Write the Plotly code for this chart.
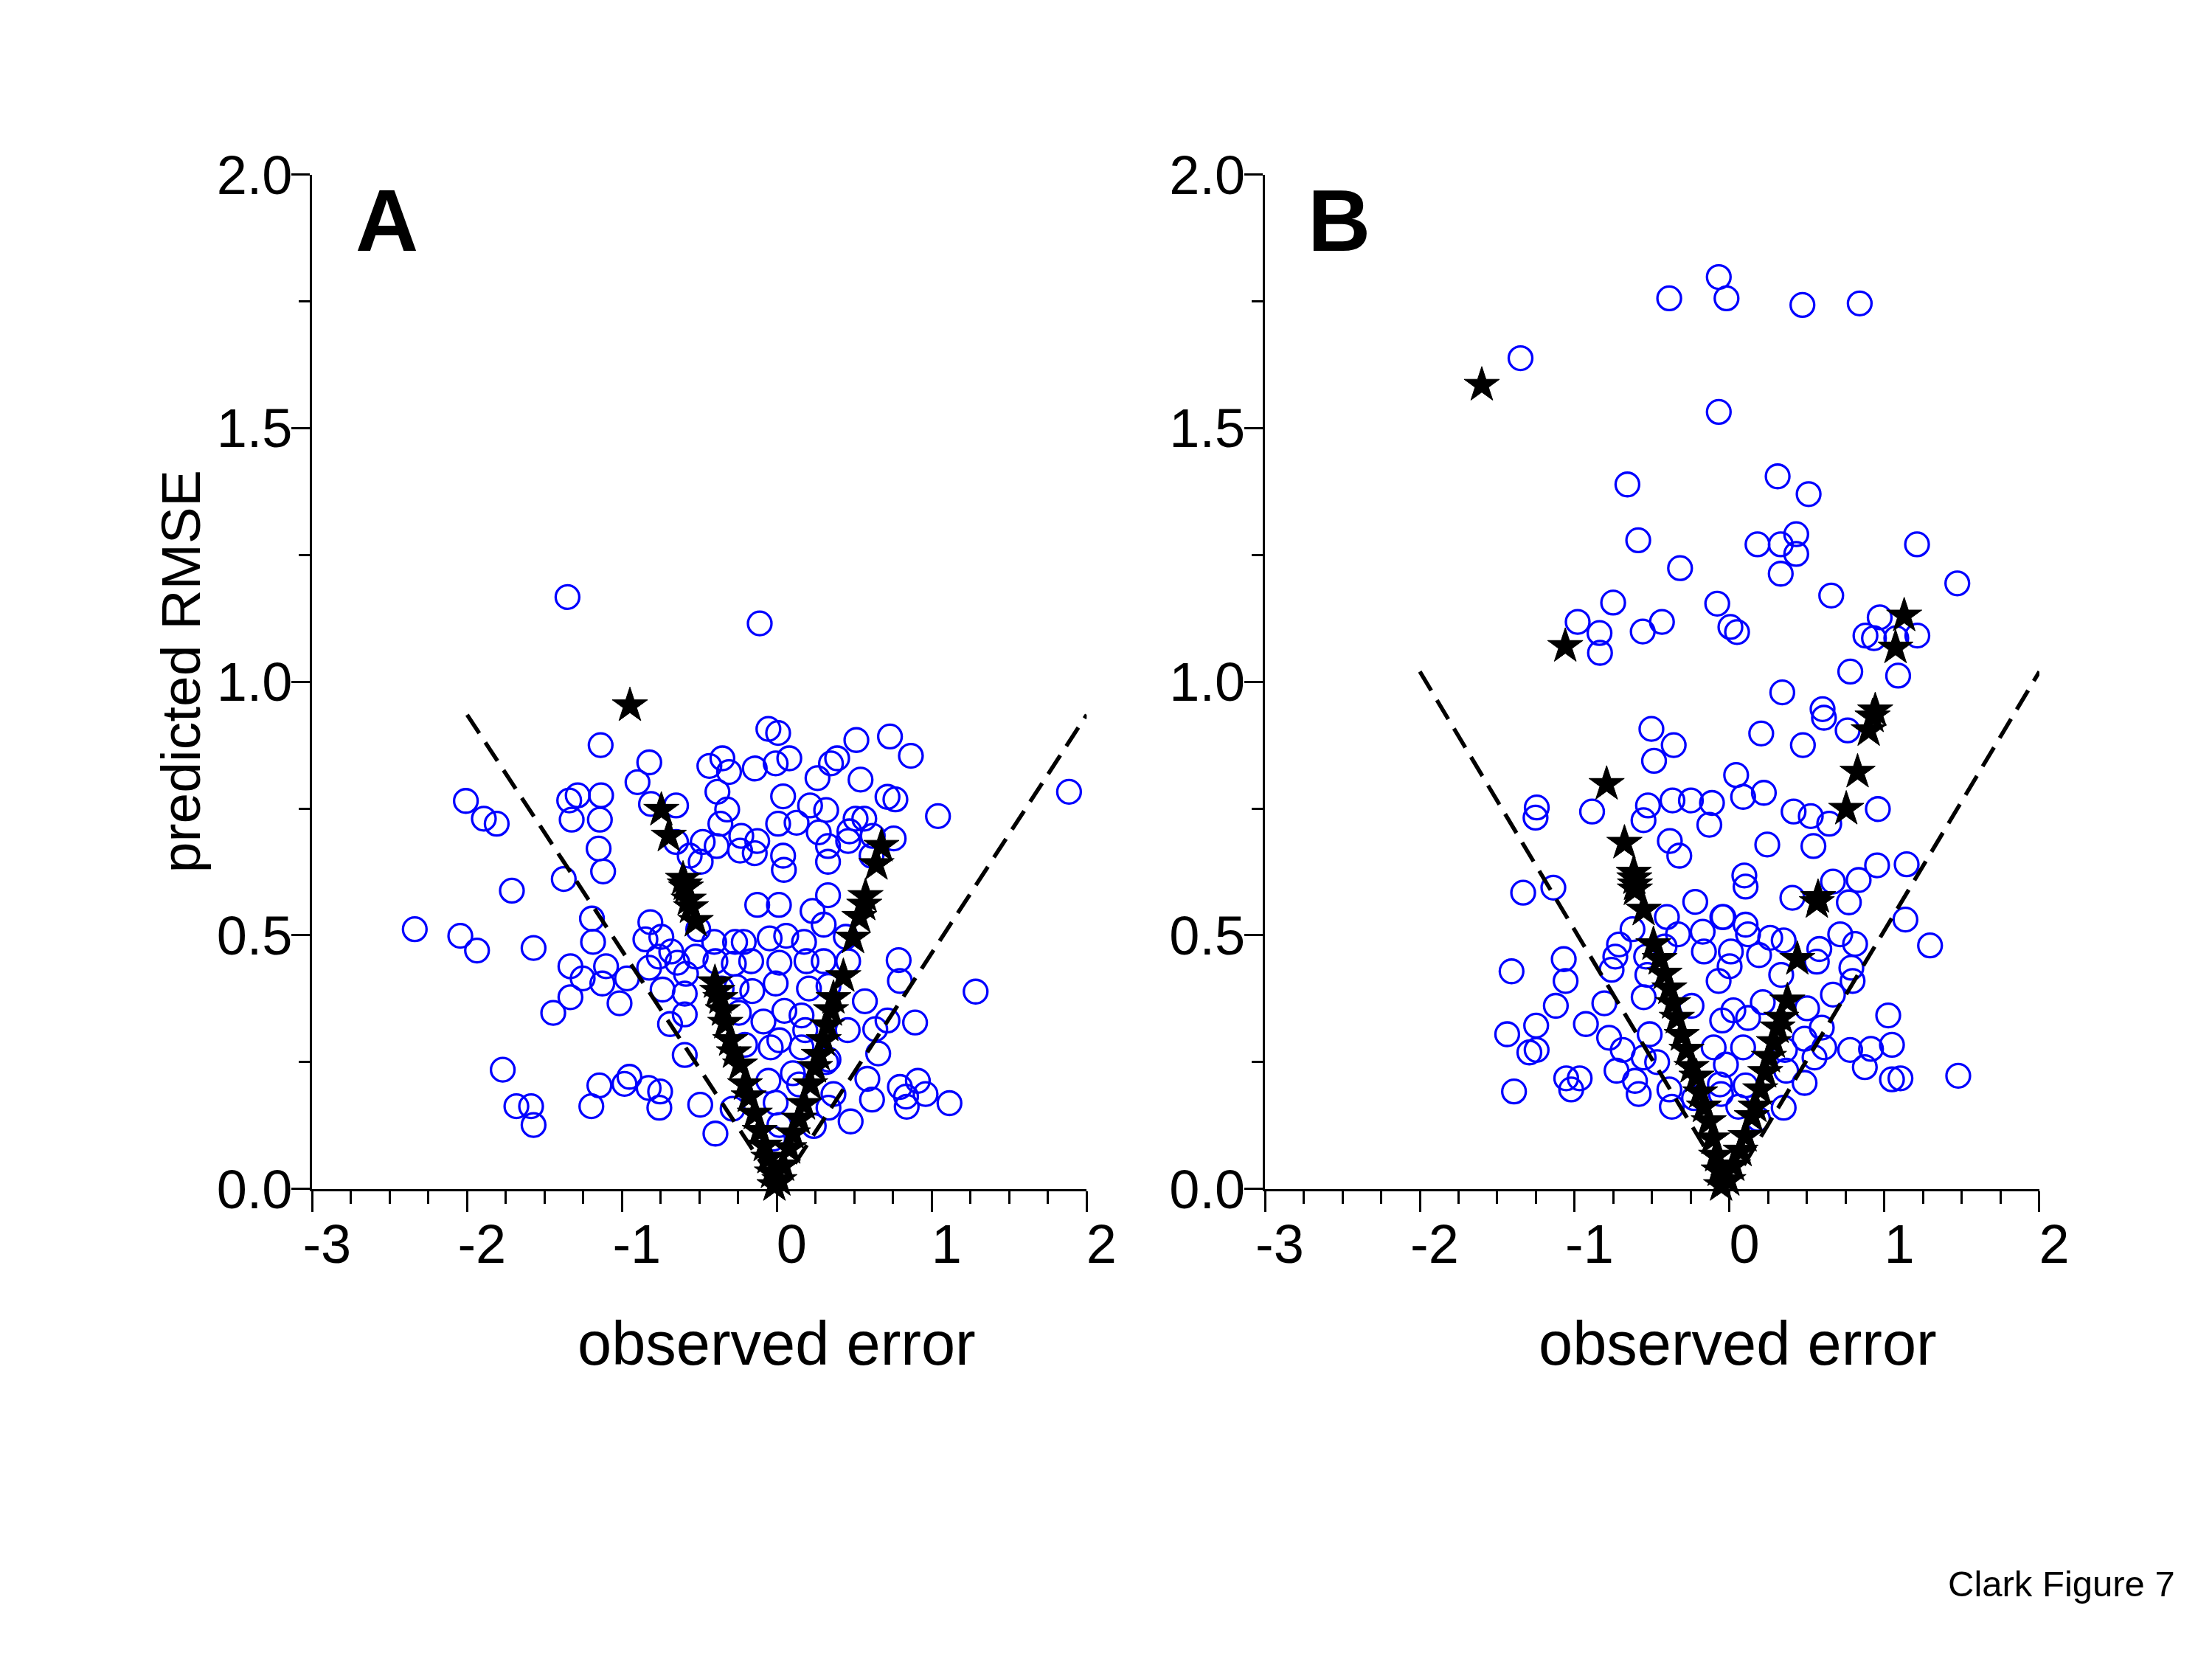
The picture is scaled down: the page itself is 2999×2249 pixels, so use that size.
import plotly.graph_objects as go

FONT = "Liberation Sans, Arial, Helvetica, sans-serif"
BLUE = "#0000ff"

# ---- panel A -------------------------------------------------------------
a_circle_x = [
    -1.352, -1.138, -0.824, -0.900, -0.436, -0.352, -0.309, -0.384, -0.321, -0.365,
    -0.813, -0.651, -0.651, -0.479, -0.389, -0.563, -0.492, -0.238, -0.230, -2.008,
    -1.892, -1.809, -1.286, -1.135, -1.325, -1.143, -1.341, -1.151, -1.122, -1.376,
    -1.711, -2.338, -2.044, -1.936, -1.571, -1.194, -1.187, -0.817, -0.849, -0.746,
    -0.508, -0.405, -0.270,
    -0.111, -0.055, 0.008, 0.513, 0.730, 0.865, -0.143, -0.008, 0.080, 0.349,
    0.389, 0.262, 0.540, 0.040, 0.214, 0.318, 0.714, 0.765, 1.040, 1.886,
    0.008, 0.127, 0.270, 0.508, 0.564, 0.468, 0.619, 0.754, -0.127, 0.040,
    0.045, 0.330, 0.330, 0.460, 0.611, -0.127, 0.013, 0.330, 0.230, 0.302,
    -0.214, -0.047, 0.060, 0.175, 0.445, -0.143,
    -0.682, -1.333, -1.254, -1.127, -1.103, -0.968, -1.333, -1.444, -1.016, -0.825,
    -0.762, -0.643, -0.524, -0.587, -0.738, -0.595, -0.595, -0.690, -0.595, -0.397,
    -0.357, -0.278, -0.260, -1.770, -1.682, -1.587, -1.571, -1.146, -1.198, -0.984,
    -0.952, -0.828, -0.754, -0.759, -0.495, -0.286, -0.397,
    0.786, 0.794, 1.283, 0.568, 0.714, 0.892, 0.635, 0.457, 0.654, 0.584,
    0.614, 0.794, 0.910, 0.960, 0.834, 0.838, 1.114, 0.476, 0.365, 0.333,
    0.238, 0.016, -0.008, -0.055, 0.103, 0.143, 0.318, -0.166, 0.016, 0.191,
    0.460, 0.302, -0.008, -0.159, 0.207, 0.333, -0.087, 0.048, 0.159, 0.183,
    -0.206, -0.040, 0.016, 0.159, 0.333, -0.246, -0.024,
]
a_circle_y = [
    1.167, 0.875, 0.841, 0.802, 0.834, 0.849, 0.822, 0.783, 0.748, 0.720,
    0.759, 0.756, 0.684, 0.684, 0.676, 0.657, 0.645, 0.667, 0.696, 0.765,
    0.730, 0.720, 0.776, 0.776, 0.728, 0.728, 0.766, 0.671, 0.626, 0.611,
    0.588, 0.512, 0.499, 0.470, 0.475, 0.533, 0.487, 0.526, 0.492, 0.497,
    0.512, 0.487, 0.487,
    1.115, 0.907, 0.899, 0.885, 0.892, 0.854, 0.829, 0.839, 0.849, 0.839,
    0.849, 0.810, 0.807, 0.774, 0.756, 0.747, 0.773, 0.768, 0.735, 0.783,
    0.720, 0.722, 0.703, 0.730, 0.730, 0.705, 0.696, 0.691, 0.686, 0.657,
    0.629, 0.676, 0.645, 0.686, 0.657, 0.560, 0.560, 0.579, 0.548, 0.521,
    0.487, 0.494, 0.499, 0.487, 0.497, 0.662,
    0.468, 0.439, 0.415, 0.405, 0.439, 0.415, 0.378, 0.347, 0.366, 0.436,
    0.458, 0.446, 0.458, 0.424, 0.393, 0.385, 0.344, 0.325, 0.264, 0.449,
    0.395, 0.444, 0.398, 0.235, 0.163, 0.163, 0.126, 0.204, 0.163, 0.207,
    0.221, 0.199, 0.192, 0.160, 0.166, 0.158, 0.109,
    0.451, 0.410, 0.389, 0.370, 0.332, 0.328, 0.315, 0.313, 0.267, 0.217,
    0.176, 0.201, 0.213, 0.187, 0.182, 0.162, 0.169, 0.133, 0.187, 0.160,
    0.124, 0.126, 0.170, 0.213, 0.228, 0.206, 0.250, 0.449, 0.446, 0.449,
    0.449, 0.449, 0.405, 0.390, 0.395, 0.400, 0.330, 0.351, 0.342, 0.313,
    0.284, 0.279, 0.293, 0.279, 0.255, 0.347, 0.099,
]
a_star_x = [
    -0.949, -0.746, -0.698, -0.606, -0.595, -0.587, -0.570, -0.555, -0.524,
    -0.400, -0.385, -0.365, -0.349, -0.333, -0.302, -0.278, -0.238, -0.206,
    -0.182, -0.143, -0.111, -0.079, -0.055, -0.032, -0.016,
    0.675, 0.643, 0.572, 0.564, 0.532, 0.492, 0.429, 0.365, 0.349, 0.325,
    0.302, 0.270, 0.246, 0.215, 0.175, 0.143, 0.103, 0.080, 0.040, 0.016,
]
a_star_y = [
    0.953, 0.747, 0.696, 0.611, 0.600, 0.594, 0.570, 0.555, 0.528,
    0.407, 0.390, 0.376, 0.352, 0.327, 0.293, 0.269, 0.245, 0.206,
    0.182, 0.148, 0.114, 0.085, 0.061, 0.032, 0.007,
    0.676, 0.640, 0.577, 0.560, 0.536, 0.495, 0.419, 0.376, 0.352, 0.322,
    0.293, 0.264, 0.240, 0.206, 0.167, 0.138, 0.109, 0.080, 0.046, 0.017,
]
a_dash_x = [-2.0, 0.01, 2.0]
a_dash_y = [0.935, 0.0, 0.935]

# ---- panel B -------------------------------------------------------------
b_circle_x = [
    -0.07, -0.02, -0.39, 0.47, 0.84, -1.35, -0.07, -0.66, 0.31, 0.51,
    -0.59, 0.18, 0.33, 0.43, 0.43, 0.33, -0.32, 1.21, 1.47,
    -0.752, -0.981, -0.840, -0.837, -0.561, -0.437, -0.080, 0.005, 0.048, 0.656,
    0.969, 0.877, 0.932, 1.076, 1.212, 0.779, 1.088, 0.340, 0.600, 0.609,
    0.762, 0.204, 0.473, -0.505, -0.361, -0.488, 0.042, 0.087, 0.221, 0.413,
    0.524, 0.643, 0.957, -0.888, -0.527, -0.556, -0.369, -0.250, -0.114, -0.131,
    -1.245, -1.253, -0.386, 0.243, 0.541,
    -0.325, -1.333, -1.138, -0.222, -0.405, -0.333, -0.627, -0.714, -0.738, -0.762,
    -0.539, -0.420, -0.174, -0.166, -0.047, -1.408, -1.071, -1.059, -1.122, -0.809,
    -0.555, -0.531, -1.249, -1.436, -1.293, -1.246, -0.928, -0.778, -0.516, -0.246,
    -0.690, -0.730, -0.611, -0.555, -0.468, -0.587, -0.389, -0.373, -0.230, -0.103,
    -0.063, -1.055, -0.968, -1.023, -1.392, -0.071,
    0.952, 1.143, 0.095, 0.103, 0.667, 0.833, 0.405, 0.770, 1.135, 1.294,
    -0.040, 0.103, 0.119, 0.262, 0.349, 0.190, 0.008, 0.000, 0.333, 0.579,
    0.714, 0.810, 0.563, 0.786, 0.794, 0.667, 0.214, 0.500, 0.024, -0.048,
    0.119, 1.024, 0.484, 0.595, 0.611, 0.548, 0.778, 0.913, 1.048, 0.873,
    1.048, 1.103, 1.476, 0.087, 0.357, -0.024, 0.365, 0.484, 0.103, 0.056,
    0.349, 0.183, -0.056,
]
b_circle_y = [
    1.798, 1.756, 1.756, 1.743, 1.746, 1.638, 1.532, 1.389, 1.405, 1.370,
    1.279, 1.271, 1.271, 1.291, 1.252, 1.213, 1.224, 1.271, 1.194,
    1.156, 1.118, 1.096, 1.057, 1.099, 1.118, 1.154, 1.108, 1.098, 1.170,
    1.127, 1.091, 1.086, 1.086, 1.091, 1.020, 1.012, 0.979, 0.946, 0.929,
    0.904, 0.898, 0.875, 0.907, 0.875, 0.844, 0.816, 0.773, 0.781, 0.744,
    0.735, 0.720, 0.749, 0.744, 0.756, 0.727, 0.766, 0.766, 0.761, 0.718,
    0.752, 0.732, 0.686, 0.679, 0.676,
    0.657, 0.584, 0.594, 0.566, 0.536, 0.502, 0.512, 0.482, 0.458, 0.432,
    0.458, 0.478, 0.507, 0.468, 0.536, 0.429, 0.453, 0.410, 0.361, 0.366,
    0.378, 0.422, 0.322, 0.305, 0.269, 0.274, 0.325, 0.298, 0.305, 0.361,
    0.274, 0.233, 0.213, 0.259, 0.250, 0.187, 0.196, 0.162, 0.179, 0.279,
    0.206, 0.218, 0.218, 0.196, 0.192, 0.410,
    0.638, 0.640, 0.618, 0.596, 0.606, 0.609, 0.574, 0.565, 0.531, 0.480,
    0.536, 0.521, 0.502, 0.495, 0.490, 0.461, 0.468, 0.439, 0.422, 0.473,
    0.502, 0.483, 0.448, 0.436, 0.410, 0.383, 0.368, 0.356, 0.352, 0.332,
    0.337, 0.342, 0.296, 0.318, 0.279, 0.259, 0.274, 0.276, 0.284, 0.240,
    0.216, 0.218, 0.223, 0.279, 0.274, 0.245, 0.233, 0.209, 0.204, 0.162,
    0.160, 0.138, 0.187,
]
b_star_x = [
    -1.600, -1.061, 1.127, 1.071, 0.940, 0.923, 0.898, 0.826, 0.753, -0.794,
    0.571, 0.563, 0.437,
    -0.679, -0.619, -0.615, -0.611, -0.612, -0.555, -0.492, -0.452, -0.420, -0.389,
    -0.365, -0.341, -0.309, -0.278, -0.246, -0.214, -0.190, -0.166, -0.135, -0.111,
    -0.087, -0.071, -0.055,
    0.373, 0.333, 0.310, 0.286, 0.254, 0.230, 0.198, 0.167, 0.143, 0.103,
    0.071, 0.024, -0.008,
]
b_star_y = [
    1.585, 1.070, 1.130, 1.067, 0.943, 0.931, 0.904, 0.822, 0.749, 0.798,
    0.575, 0.565, 0.453,
    0.682, 0.623, 0.612, 0.600, 0.590, 0.550, 0.482, 0.453, 0.424, 0.395,
    0.366, 0.337, 0.303, 0.274, 0.240, 0.221, 0.190, 0.162, 0.133, 0.099,
    0.065, 0.036, 0.007,
    0.371, 0.337, 0.318, 0.289, 0.260, 0.230, 0.196, 0.162, 0.143, 0.104,
    0.075, 0.046, 0.017,
]
b_dash_x = [-2.0, 0.0, 2.0]
b_dash_y = [1.02, 0.0, 1.02]

# ---- axes ----------------------------------------------------------------
x_tick_vals = [-3, -2, -1, 0, 1, 2]
x_tick_text = ["-3", "-2", "-1", "0", "1", "2"]
y_tick_vals = [0.0, 0.5, 1.0, 1.5, 2.0]
y_tick_text = ["0.0", "0.5", "1.0", "1.5", "2.0"]

panels = [
    ("A", a_circle_x, a_circle_y, a_star_x, a_star_y, a_dash_x, a_dash_y),
    ("B", b_circle_x, b_circle_y, b_star_x, b_star_y, b_dash_x, b_dash_y),
]
# the html page body has an 8px margin, so pull everything up/left by that
DX = 8 / 2999
DY = 8 / 2249
x_domains = [[0.14115 - DX, 0.49127 - DX], [0.57186 - DX, 0.92197 - DX]]
y_domain = [0.28337 + DY, 0.89475 + DY]
title_x = [0.3511 - DX, 0.7856 - DX]

fig = go.Figure()
layout = {}
annotations = []

for i, (letter, cx, cy, sx, sy, dx, dy) in enumerate(panels):
    n = "" if i == 0 else str(i + 1)
    xref, yref = "x" + n, "y" + n
    fig.add_trace(go.Scatter(
        x=cx, y=cy, mode="markers", xaxis=xref, yaxis=yref, cliponaxis=False,
        marker=dict(symbol="circle-open", size=32, color=BLUE,
                    line=dict(width=3.3, color=BLUE)),
    ))
    fig.add_trace(go.Scatter(
        x=dx, y=dy, mode="lines", xaxis=xref, yaxis=yref,
        line=dict(color="black", width=5.5, dash="30px,15px"),
    ))
    fig.add_trace(go.Scatter(
        x=sx, y=sy, mode="markers", xaxis=xref, yaxis=yref, cliponaxis=False,
        marker=dict(symbol="star", size=36, color="black",
                    line=dict(width=1, color="black")),
    ))

    common = dict(
        showline=True, linewidth=3, linecolor="black", showgrid=False,
        zeroline=False, ticks="outside", tickwidth=3, tickcolor="black",
        automargin=False,
        tickfont=dict(family=FONT, size=74, color="black"),
    )
    layout["xaxis" + n] = dict(
        common, domain=x_domains[i], anchor=yref, range=[-3, 2],
        tickmode="array", tickvals=x_tick_vals, ticktext=x_tick_text,
        ticklen=28, ticklabelshift=20, ticklabelstandoff=-20,
        minor=dict(tickmode="linear", tick0=0, dtick=0.25, ticks="outside",
                   ticklen=17, tickwidth=3, tickcolor="black"),
    )
    layout["yaxis" + n] = dict(
        common, domain=y_domain, anchor=xref, range=[0, 2],
        tickmode="array", tickvals=y_tick_vals, ticktext=y_tick_text,
        ticklen=25, ticklabelstandoff=-16,
        minor=dict(tickmode="linear", tick0=0, dtick=0.25, ticks="outside",
                   ticklen=15, tickwidth=3, tickcolor="black"),
    )
    annotations.append(dict(
        x=-2.52, y=1.91, xref=xref, yref=yref, text="<b>" + letter + "</b>",
        xanchor="center", yanchor="middle", showarrow=False,
        font=dict(family=FONT, size=118, color="black"),
    ))
    annotations.append(dict(
        x=title_x[i], y=0.19 + DY, xref="paper", yref="paper", text="observed error",
        xanchor="center", yanchor="middle", showarrow=False,
        font=dict(family=FONT, size=83, color="black"),
    ))

annotations.append(dict(
    x=0.0815 - DX, y=0.5955 + DY, xref="paper", yref="paper", text="predicted RMSE",
    textangle=-90, xanchor="center", yanchor="middle", showarrow=False,
    font=dict(family=FONT, size=75, color="black"),
))
annotations.append(dict(
    x=0.9840 - DX, y=0.0455 + DY, xref="paper", yref="paper", text="Clark Figure 7",
    xanchor="right", yanchor="middle", showarrow=False,
    font=dict(family=FONT, size=49, color="black"),
))

fig.update_layout(
    width=2999, height=2249, margin=dict(l=0, r=0, t=0, b=0),
    paper_bgcolor="white", plot_bgcolor="white", showlegend=False,
    annotations=annotations, **layout,
)
fig.write_html("out.html")
